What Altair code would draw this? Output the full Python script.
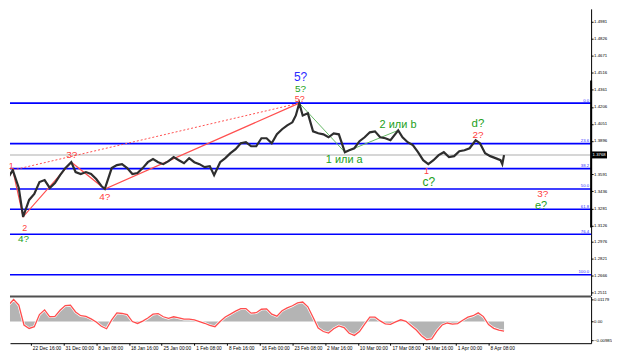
import json
import altair as alt
import pandas as pd

# ---------------- data (H4 bar index on x; 38 bars between time labels) ----------------
price_bar = [6, 12, 17, 24, 29, 36, 42, 48, 54, 60,
             66, 72, 78, 85, 90, 96, 102, 108, 114, 120,
             124, 132, 138, 144, 150, 156, 162, 168, 174, 180,
             186, 192, 198, 204, 210, 216, 222, 228, 234, 240,
             246, 251, 258, 264, 270, 276, 282, 288, 294, 300,
             306, 312, 318, 324, 330, 336, 342, 346, 350, 354,
             360, 366, 372, 378, 384, 390, 396, 403, 408, 414,
             420, 426, 432, 438, 444, 450, 456, 465, 470, 476,
             482, 488, 494, 500, 506, 512, 518, 524, 530, 536,
             542, 548, 555, 560, 566, 572, 578, 584, 586, 588]
price_val = [1.3485, 1.3566, 1.3630, 1.3467, 1.3204, 1.3358, 1.3412, 1.3521, 1.3539, 1.3467,
             1.3512, 1.3584, 1.3648, 1.3702, 1.3612, 1.3594, 1.3612, 1.3594, 1.3548, 1.3485,
             1.3458, 1.3648, 1.3675, 1.3684, 1.3648, 1.3594, 1.3603, 1.3648, 1.3702, 1.3730,
             1.3702, 1.3684, 1.3711, 1.3748, 1.3720, 1.3693, 1.3739, 1.3702, 1.3684, 1.3657,
             1.3666, 1.3584, 1.3702, 1.3739, 1.3784, 1.3820, 1.3875, 1.3884, 1.3847, 1.3847,
             1.3920, 1.3920, 1.3875, 1.3956, 1.4002, 1.4038, 1.4065, 1.4128, 1.4240, 1.4128,
             1.4147, 1.3983, 1.3965, 1.3956, 1.3929, 1.3965, 1.3956, 1.3793, 1.3811, 1.3829,
             1.3893, 1.3929, 1.3974, 1.3983, 1.3929, 1.3920, 1.3902, 1.3992, 1.3929, 1.3884,
             1.3857, 1.3793, 1.3720, 1.3684, 1.3720, 1.3766, 1.3793, 1.3748, 1.3757, 1.3802,
             1.3811, 1.3829, 1.3902, 1.3875, 1.3784, 1.3757, 1.3739, 1.3720, 1.3684, 1.3766]

osc_bar = [6, 12, 18, 24, 30, 36, 42, 48, 54, 60,
           66, 72, 78, 84, 90, 96, 102, 108, 114, 120,
           126, 132, 138, 144, 150, 156, 162, 168, 174, 180,
           186, 192, 198, 204, 210, 216, 222, 228, 234, 240,
           246, 252, 258, 264, 270, 276, 282, 288, 294, 300,
           306, 312, 318, 324, 330, 336, 342, 348, 354, 360,
           366, 372, 378, 384, 390, 396, 402, 408, 414, 420,
           426, 432, 438, 444, 450, 456, 462, 468, 474, 480,
           486, 492, 498, 504, 510, 516, 522, 528, 534, 540,
           546, 552, 558, 564, 570, 576, 582, 588]
osc_val = [0.00416, 0.00872, 0.01169, 0.00872, -0.00178, -0.00361, -0.00269, 0.00370, 0.00621, 0.00256,
           0.00279, 0.00598, 0.00849, 0.00872, 0.00507, 0.00310, 0.00279, 0.00142, -0.00018, -0.00247,
           -0.00374, 0.00096, 0.00461, 0.00429, 0.00370, 0.00005, -0.00096, 0.00027, 0.00187, 0.00393,
           0.00425, 0.00256, 0.00174, 0.00256, 0.00196, 0.00128, 0.00128, 0.00096, 0.00005, -0.00087,
           -0.00201, -0.00269, 0.00005, 0.00242, 0.00393, 0.00552, 0.00689, 0.00689, 0.00447, 0.00470,
           0.00653, 0.00676, 0.00393, 0.00288, 0.00575, 0.00721, 0.00836, 0.00986, 0.01032, 0.00781,
           0.00233, -0.00338, -0.00521, -0.00603, -0.00374, -0.00224, -0.00315, -0.00616, -0.00726, -0.00525,
           -0.00132, 0.00242, 0.00237, 0.00037, -0.00119, -0.00142, -0.00014, 0.00096, 0.00018, -0.00215,
           -0.00443, -0.00740, -0.00954, -0.00909, -0.00498, -0.00178, -0.00073, -0.00132, -0.00100, 0.00073,
           0.00233, 0.00310, 0.00461, 0.00265, -0.00155, -0.00352, -0.00443, -0.00498]

# wave lines
red_wave_bar = [4, 17, 29, 85, 124, 350]
red_wave_val = [1.3455, 1.3630, 1.3204, 1.3702, 1.3458, 1.4240]
red_dot_bar = [17, 350]
red_dot_val = [1.3630, 1.4240]
green_wave_bar = [350, 403, 465]
green_wave_val = [1.4240, 1.3793, 1.3992]

# wave labels
lab_text = ["5?", "5?", "5?", "1", "2", "4?", "3?", "4?", "1 или a", "2 или b",
            "1", "c?", "d?", "2?", "3?", "e?"]
lab_bar = [351.5, 351.5, 350.5, 15.3, 30.8, 29.6, 85.5, 124, 402.3, 464.8,
           498, 500.6, 557.7, 557.7, 632.9, 631]
lab_price = [1.4478, 1.4367, 1.4276, 1.3666, 1.3102, 1.2998, 1.3766, 1.3385, 1.3720, 1.4038,
             1.3621, 1.3524, 1.4050, 1.3950, 1.3412, 1.3302]
lab_color = ["#2b2bff", "#22a022", "#ff4040", "#ff4040", "#ff4040", "#22a022", "#ff4040", "#ff4040",
             "#22a022", "#22a022", "#ff4040", "#22a022", "#22a022", "#ff4040", "#ff4040", "#22a022"]
lab_size = [12, 10, 9, 9, 9, 10, 10, 10, 11, 11, 9, 12, 11.5, 10, 10, 11]

fib_levels = ["0.0", "23.6", "38.2", "50.0", "61.8", "76.4", "100.0"]
fib_prices = [1.4240, 1.3871, 1.3643, 1.3458, 1.3273, 1.3045, 1.2676]

y_ticks = [1.4981, 1.4826, 1.4671, 1.4516, 1.4361, 1.4206, 1.4051, 1.3896,
           1.3591, 1.3436, 1.3281, 1.3126, 1.2976, 1.2821, 1.2666, 1.2511]
osc_ticks = [0.01179, 0.0, -0.00985]
x_tick_bars = [38, 76, 114, 152, 190, 228, 266, 304, 342, 380, 418, 456, 494, 532, 570]
x_tick_labels = ["22 Dec 16:00", "31 Dec 00:00", "8 Jan 08:00", "18 Jan 16:00", "25 Jan 00:00",
                 "1 Feb 08:00", "8 Feb 16:00", "16 Feb 00:00", "23 Feb 08:00", "2 Mar 16:00",
                 "10 Mar 00:00", "17 Mar 08:00", "24 Mar 16:00", "1 Apr 00:00", "8 Apr 08:00"]
current_price = 1.3768
scale_marker = [1.4446, 1.3107]

# ---------------- layout ----------------
W = 584
H_TOP = 288
H_BOT = 47
X_DOMAIN = [13.76, 689.2]
Y_DOMAIN = [1.2488, 1.5099]
O_DOMAIN = [-0.01137, 0.01329]
FONT = "Liberation Sans"
AX_FS = 4.3

xs = alt.Scale(domain=X_DOMAIN, nice=False, zero=False)
ys = alt.Scale(domain=Y_DOMAIN, nice=False, zero=False)
os_ = alt.Scale(domain=O_DOMAIN, nice=False, zero=False)

price_df = pd.DataFrame({"bar": price_bar, "price": price_val})
osc_df = pd.DataFrame({"bar": osc_bar, "v": osc_val})
red_df = pd.DataFrame({"bar": red_wave_bar, "price": red_wave_val})
dot_df = pd.DataFrame({"bar": red_dot_bar, "price": red_dot_val})
green_df = pd.DataFrame({"bar": green_wave_bar, "price": green_wave_val})
lab_df = pd.DataFrame({"bar": lab_bar, "price": lab_price, "t": lab_text,
                       "c": lab_color, "s": lab_size})
fib_df = pd.DataFrame({"price": fib_prices, "lev": fib_levels})
cur_df = pd.DataFrame({"price": [current_price], "t": [f"{current_price:.4f}"]})
mark_df = pd.DataFrame({"price": [scale_marker[0]], "lo": [scale_marker[1]]})

yaxis = alt.Axis(orient="right", values=y_ticks, format=".4f", labelFontSize=AX_FS, labelFont=FONT,
                 labelColor="black", tickSize=2, tickColor="black", domainColor="black",
                 domainWidth=1, labelPadding=0.5, grid=False, title=None, labelFlush=False,
                 labelOverlap=False)

X = alt.X("bar:Q", scale=xs, axis=None)
Y = alt.Y("price:Q", scale=ys, axis=yaxis, title=None)

fib_rules = alt.Chart(fib_df).mark_rule(color="#0000ff", strokeWidth=1.6).encode(y=Y)
fib_text = alt.Chart(fib_df).mark_text(color="#3030ff", fontSize=AX_FS, font=FONT, align="right",
                                        baseline="alphabetic", dy=-1.5).encode(
    x=alt.value(W - 2), y=Y, text="lev:N")
cur_line = alt.Chart(cur_df).mark_rule(color="#c8c8c8", strokeWidth=1.5).encode(y=Y)
dot_line = alt.Chart(dot_df).mark_line(color="#ff5050", strokeWidth=1, strokeDash=[2, 2],
                                       clip=True).encode(x=X, y=Y)
red_line = alt.Chart(red_df).mark_line(color="#ff5050", strokeWidth=1.2, clip=True).encode(x=X, y=Y)
green_line = alt.Chart(green_df).mark_line(color="#66b866", strokeWidth=1, clip=True).encode(x=X, y=Y)
price_line = alt.Chart(price_df).mark_line(color="#2e2e2e", strokeWidth=2.2, clip=True).encode(x=X, y=Y)
labels = alt.Chart(lab_df).mark_text(font=FONT, align="center", baseline="middle").encode(
    x=X, y=Y, text="t:N", color=alt.Color("c:N", scale=None), size=alt.Size("s:Q", scale=None))
box = alt.Chart(cur_df).mark_rule(color="black", strokeWidth=7, strokeCap="butt").encode(
    x=alt.value(W), x2=alt.value(W + 16), y=Y)
box_text = alt.Chart(cur_df).mark_text(color="white", fontSize=AX_FS, font=FONT, align="left",
                                       baseline="middle").encode(x=alt.value(W + 1.5), y=Y, text="t:N")
marker = alt.Chart(mark_df).mark_rule(color="black", strokeWidth=2).encode(
    x=alt.value(W), y=Y, y2="lo:Q")

top = alt.layer(fib_rules, cur_line, fib_text, dot_line, red_line, green_line, price_line,
                labels, marker, box, box_text).properties(width=W, height=H_TOP)

xlabel_expr = json.dumps(x_tick_labels) + "[indexof(" + json.dumps(x_tick_bars) + ", datum.value)]"
xaxis = alt.Axis(values=x_tick_bars, labelExpr=xlabel_expr, labelAlign="left", labelBaseline="top",
                 labelFontSize=4.8, labelFont=FONT, labelColor="black", tickSize=2, tickColor="black",
                 domainColor="black", domainWidth=1, labelPadding=0, labelOffset=1.5, grid=False,
                 title=None, labelFlush=False, labelOverlap=False)
oaxis = alt.Axis(orient="right", values=osc_ticks,
                 labelExpr="datum.value == 0 ? '0.00' : format(datum.value, '.5f')",
                 labelFontSize=AX_FS, labelFont=FONT, labelColor="black", tickSize=2, tickColor="black",
                 domainColor="black", domainWidth=1, labelPadding=0.5, grid=False, title=None,
                 labelFlush=False, labelOverlap=False)

OX = alt.X("bar:Q", scale=xs, axis=xaxis, title=None)
OY = alt.Y("v:Q", scale=os_, axis=oaxis, title=None)

osc_area = alt.Chart(osc_df).mark_area(color="#b4b4b4", clip=True).encode(
    x=OX, y=OY, y2=alt.datum(0))
osc_halo = alt.Chart(osc_df).mark_line(color="#ffffff", strokeWidth=2.6, clip=True).encode(x=OX, y=OY)
osc_line = alt.Chart(osc_df).mark_line(color="#ff4d4d", strokeWidth=1.3, clip=True).encode(x=OX, y=OY)
sep = alt.Chart(cur_df).mark_rule(color="#505050", strokeWidth=2).encode(y=alt.value(0))

bottom = alt.layer(osc_area, osc_halo, osc_line, sep).properties(width=W, height=H_BOT)

chart = alt.vconcat(top, bottom, spacing=0).properties(
    padding={"left": 0, "top": 0, "right": 0, "bottom": 0}, background="white"
).configure_view(stroke=None)

chart.save("out.html", embed_options={"renderer": "svg", "actions": False})
